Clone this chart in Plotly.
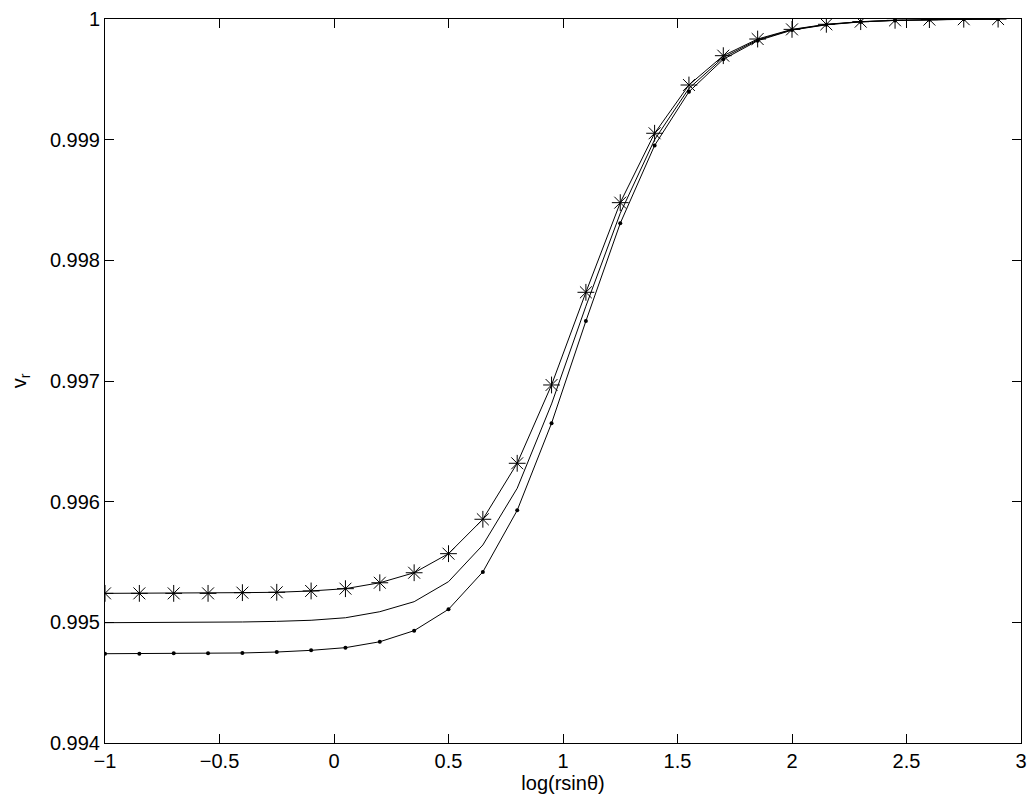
import plotly.graph_objects as go

# log(r sin theta)
x = [-1.0, -0.85, -0.7, -0.55, -0.4, -0.25, -0.1, 0.05, 0.2, 0.35, 0.5, 0.65, 0.8,
     0.95, 1.1, 1.25, 1.4, 1.55, 1.7, 1.85, 2.0, 2.15, 2.3, 2.45, 2.6, 2.75, 2.9]

# v_r curves
v_star = [0.99524, 0.99524, 0.99524, 0.99524, 0.995246, 0.995249, 0.99526, 0.995279,
          0.995328, 0.995411, 0.995569, 0.995854, 0.996318, 0.996967, 0.997735,
          0.998478, 0.999053, 0.999453, 0.999696, 0.999834, 0.999914, 0.999956,
          0.999978, 0.999989, 0.999995, 0.999998, 0.999999]
v_mid = [0.994997, 0.994997, 0.994998, 0.995, 0.995003, 0.995008, 0.995017, 0.995038,
         0.995088, 0.995171, 0.995337, 0.995641, 0.996111, 0.99681, 0.99762,
         0.99839, 0.999, 0.999425, 0.999681, 0.999827, 0.999911, 0.999954,
         0.999977, 0.999989, 0.999995, 0.999998, 0.999999]
v_dot = [0.99474, 0.99474, 0.994743, 0.994743, 0.994746, 0.994754, 0.994768, 0.99479,
         0.994839, 0.994931, 0.995108, 0.995418, 0.995928, 0.99665, 0.997497,
         0.998307, 0.998952, 0.999397, 0.999666, 0.99982, 0.999908, 0.999952,
         0.999976, 0.999988, 0.999994, 0.999997, 0.999999]

x_ticks = [-1, -0.5, 0, 0.5, 1, 1.5, 2, 2.5, 3]
x_ticktext = ["\u22121", "\u22120.5", "0", "0.5", "1", "1.5", "2", "2.5", "3"]
y_ticks = [0.994, 0.995, 0.996, 0.997, 0.998, 0.999, 1.0]
y_ticktext = ["0.994", "0.995", "0.996", "0.997", "0.998", "0.999", "1"]

FONT = dict(family="Liberation Sans", size=20, color="black")

fig = go.Figure()
fig.add_trace(go.Scatter(x=x, y=v_star, mode="lines+markers",
                         line=dict(color="black", width=1),
                         marker=dict(symbol="asterisk-open", size=14,
                                     line=dict(color="black", width=1))))
fig.add_trace(go.Scatter(x=x, y=v_mid, mode="lines",
                         line=dict(color="black", width=1)))
fig.add_trace(go.Scatter(x=x, y=v_dot, mode="lines+markers",
                         line=dict(color="black", width=1),
                         marker=dict(symbol="circle", size=4, color="black")))

axis_common = dict(showgrid=False, zeroline=False, showline=True, linecolor="black",
                   linewidth=1, mirror="ticks", ticks="inside", ticklen=9,
                   tickcolor="black", tickfont=FONT)

fig.update_xaxes(range=[-1, 3], tickvals=x_ticks, ticktext=x_ticktext,
                 title=dict(text="log(rsin\u03b8)", standoff=0, font=FONT),
                 **axis_common)
fig.update_yaxes(range=[0.994, 1.0], tickvals=y_ticks, ticktext=y_ticktext,
                 title=dict(text="v<sub>r</sub>", standoff=20, font=FONT),
                 **axis_common)

# page body adds an 8px offset, so margins are trimmed by that much
fig.update_layout(width=1019, height=787, showlegend=False,
                  plot_bgcolor="white", paper_bgcolor="white",
                  margin=dict(l=97, r=6, t=11, b=52, autoexpand=False))

fig.write_html("out.html")
